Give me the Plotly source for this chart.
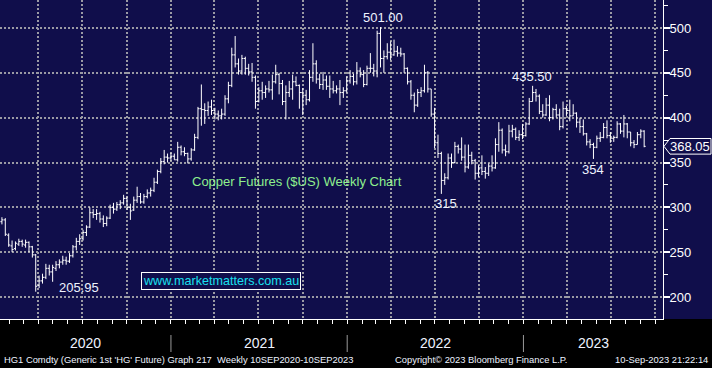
import numpy as np
import pandas as pd
import plotly.graph_objects as go

# ---------------- data (weekly OHLC, HG1 copper, US cents/lb) ----------------
week_start = "2020-01-10"
open_ = [282,284,286,269,257,254,259,262,258,261,256,247,213,218,222,232,228,232,236,239,
         241,240,246,256,262,265,272,278,294,292,293,287,282,288,300,298,303,305,310,300,
         297,308,312,306,312,316,319,328,340,351,356,355,357,353,367,362,360,354,364,378,
         410,409,408,412,408,404,402,404,421,436,470,460,452,466,455,451,445,418,430,428,
         432,431,440,448,438,418,428,432,440,436,428,425,420,445,460,443,437,442,435,432,
         430,432,428,430,441,446,440,452,448,437,455,455,452,494,466,468,473,470,474,472,
         471,455,440,425,414,428,430,450,432,404,372,360,330,333,355,350,368,365,356,345,
         358,352,338,344,340,338,346,344,370,386,364,362,385,387,378,381,380,393,418,428,
         424,407,403,414,400,409,403,390,410,408,402,405,395,390,382,373,370,367,377,378,
         389,380,377,378,393,385,393,384,372,370,381,385]
high = [287,289,288,271,263,262,265,264,264,262,257,248,224,226,237,236,236,240,242,246,
        245,249,258,266,270,275,280,300,298,298,295,291,290,303,305,306,308,314,312,304,
        312,323,316,315,320,322,333,342,355,364,360,361,360,373,369,367,361,366,382,412,
        437,416,418,420,411,408,410,425,440,478,491,466,470,468,460,461,447,434,440,436,
        441,448,459,450,442,436,441,448,446,437,433,431,453,483,464,449,451,447,447,441,
        436,442,434,446,453,449,462,456,453,458,472,460,497,501,475,483,485,487,480,478,
        472,456,442,428,432,434,459,452,432,411,381,362,338,360,360,373,370,378,370,370,
        362,354,347,358,345,349,358,377,395,388,370,392,392,389,386,393,395,422,435.5,432,
        426,415,422,425,411,415,410,418,413,420,415,406,400,398,383,376,372,380,384,394,
        397,384,380,396,394,403,394,384,375,384,387,386]
low = [278,281,268,256,250,252,257,256,255,250,244,205.95,210,215,220,224,217,229,232,236,
       236,238,244,252,258,263,268,277,288,286,283,278,279,287,293,296,298,303,297,286,
       296,305,304,304,310,312,317,326,338,348,350,352,353,351,358,357,349,352,363,376,
       391,393,402,403,398,397,398,402,416,434,456,448,448,448,447,440,410,417,420,422,
       428,420,438,426,414,398,423,420,435,410,403,414,418,440,438,432,431,431,422,427,
       427,414,422,428,438,436,437,445,434,436,450,446,445,456,450,465,464,469,468,468,
       450,437,420,406,412,423,428,428,401,366,355,315,325,331,344,349,360,352,339,343,
       348,331,334,336,332,335,340,343,362,360,357,360,378,375,374,376,379,392,418,418,
       404,400,402,396,398,400,386,388,402,396,402,389,383,380,369,366,354,366,373,377,
       377,372,373,377,382,378,377,368,366,370,377,367]
close = [284,286,270,258,253,260,262,259,261,256,247,212,218,222,232,228,233,236,239,241,
         240,246,256,262,265,272,278,294,292,293,287,282,288,300,298,303,305,310,300,296,
         308,312,306,312,316,319,328,340,351,356,355,357,353,367,362,360,354,364,378,410,
         409,408,412,408,404,402,404,421,436,470,460,452,466,455,451,445,418,430,428,432,
         431,440,448,438,418,428,432,440,436,428,425,420,445,460,443,437,442,435,432,430,
         432,428,430,441,446,440,452,448,437,455,455,452,494,466,468,473,470,474,472,471,
         455,440,425,414,428,430,450,432,404,372,360,330,333,355,350,368,365,356,345,358,
         352,338,344,340,338,346,344,370,386,364,362,385,387,378,381,380,393,418,428,424,
         407,403,414,400,409,403,390,410,408,402,405,395,390,382,373,370,367,377,378,389,
         380,377,378,393,385,393,384,372,370,381,385,368.05]

y_ticks = [200, 250, 300, 350, 400, 450, 500]
year_labels = ["2020", "2021", "2022", "2023"]
extreme_labels = ["501.00", "435.50", "315", "354", "205.95"]
title_text = "Copper Futures ($US) Weekly Chart"
site_text = "www.marketmatters.com.au"
footer_left = "HG1 Comdty (Generic 1st 'HG' Future) Graph 217\u00a0 Weekly 10SEP2020-10SEP2023"
footer_mid = "Copyright\u00a9 2023 Bloomberg Finance L.P."
footer_right = "10-Sep-2023 21:22:14"

dates = pd.date_range(week_start, periods=len(close), freq="7D")

# ---------------- styling ----------------
NAVY = "#100e4b"
GRID = "#9a9aa4"
TXT = "#eef3ff"
FONT = "Liberation Sans, Arial, sans-serif"
W, H = 712, 368
ML, MR, MT, MB = 0, 49, 0, 49
PW = W - ML - MR
PH = H - MT - MB
x_start, x_end = "2020-01-13", "2023-10-17"
y_lo, y_hi = 175.5, 531.2

fig = go.Figure()
fig.add_trace(go.Ohlc(
    x=dates, open=open_, high=high, low=low, close=close,
    increasing=dict(line=dict(color="white", width=1)),
    decreasing=dict(line=dict(color="white", width=1)),
    tickwidth=0.45, hoverinfo="skip", showlegend=False,
))

# navy panel (plot + right axis area)
fig.add_shape(type="rect", xref="paper", yref="paper", x0=0, x1=W / PW, y0=0, y1=1,
              fillcolor=NAVY, line=dict(width=0), layer="below")

# last price tag
last = close[-1]
hh = 8.7
px = lambda p: p / PW
path = (f"M {px(PW+1)},{last} L {px(PW+7)},{last+hh} L {px(W-1)},{last+hh} "
        f"L {px(W-1)},{last-hh} L {px(PW+7)},{last-hh} Z")
fig.add_shape(type="path", xref="paper", yref="y", path=path,
              fillcolor=NAVY, line=dict(color="white", width=1), layer="above")
fig.add_annotation(x=px(690), xref="paper", y=last, yref="y", text=f"{last:.2f}",
                   showarrow=False, xanchor="center", yanchor="middle",
                   font=dict(family=FONT, size=13, color="white"))

# extreme labels anchored on bars
h_arr, l_arr = np.array(high), np.array(low)
i_max = int(np.argmax(h_arr))
i_min = int(np.argmin(l_arr))
m22 = (dates >= "2022-01-01") & (dates < "2023-01-01")
m23 = dates >= "2023-01-01"
i_315 = int(np.where(m22)[0][np.argmin(l_arr[m22])])
i_354 = int(np.where(m23)[0][np.argmin(l_arr[m23])])
i_435 = int(np.where(m23)[0][np.argmax(h_arr[m23])])
specs = [
    (i_max, high[i_max], extreme_labels[0], 2, 10),
    (i_435, high[i_435], extreme_labels[1], -1, 9),
    (i_315, low[i_315], extreme_labels[2], 5, -10),
    (i_354, low[i_354], extreme_labels[3], 0, -11),
    (i_min, low[i_min], extreme_labels[4], 43, 4),
]
for i, yv, t, xs, ys in specs:
    fig.add_annotation(x=dates[i], y=yv, text=t, showarrow=False,
                       xanchor="center", yanchor="middle", xshift=xs, yshift=ys,
                       font=dict(family=FONT, size=13, color=TXT))

fig.add_annotation(x=297 / PW, y=1 - 181 / PH, xref="paper", yref="paper", text=title_text,
                   showarrow=False, xanchor="center", yanchor="middle",
                   font=dict(family=FONT, size=13, color="#8ef08e"))
fig.add_annotation(x=141 / PW, y=1 - 281 / PH, xref="paper", yref="paper", text=site_text,
                   showarrow=False, xanchor="left", yanchor="middle",
                   bordercolor="white", borderwidth=1, borderpad=1, bgcolor=NAVY,
                   font=dict(family=FONT, size=12.6, color="#19e0f0"))

# year labels and dividers under the axis
yr_bounds = [pd.Timestamp(x_start), pd.Timestamp("2021-01-01"), pd.Timestamp("2022-01-01"),
             pd.Timestamp("2023-01-01"), pd.Timestamp(x_end)]
for k, lab in enumerate(year_labels):
    a, b = yr_bounds[k], yr_bounds[k + 1]
    mid = a + (b - a) / 2
    fig.add_annotation(x=mid, y=1 - 343 / PH, yref="paper",
                       text=lab, showarrow=False, xanchor="center", yanchor="middle",
                       font=dict(family=FONT, size=14, color=TXT))
for b in yr_bounds[1:4]:
    fig.add_shape(type="line", x0=b, x1=b, yref="paper", y0=1 - 335 / PH, y1=1 - 352 / PH,
                  line=dict(color="#9a9a9a", width=1))

# footer
fy = 1 - 359 / PH
FS = 9.4
fig.add_annotation(x=2 / PW, y=fy, xref="paper", yref="paper", text=footer_left,
                   showarrow=False, xanchor="left", yanchor="middle",
                   font=dict(family=FONT, size=FS, color=TXT))
fig.add_annotation(x=393 / PW, y=fy, xref="paper", yref="paper", text=footer_mid,
                   showarrow=False, xanchor="left", yanchor="middle",
                   font=dict(family=FONT, size=FS, color=TXT))
fig.add_annotation(x=710 / PW, y=fy, xref="paper", yref="paper", text=footer_right,
                   showarrow=False, xanchor="right", yanchor="middle",
                   font=dict(family=FONT, size=FS, color=TXT))

fig.update_layout(
    width=W, height=H, margin=dict(l=ML, r=MR, t=MT, b=MB, pad=0),
    paper_bgcolor="black", plot_bgcolor=NAVY, showlegend=False,
    xaxis=dict(type="date", range=[x_start, x_end], rangeslider=dict(visible=False),
               showgrid=True, gridcolor=GRID, gridwidth=2, griddash="2px,2px",
               tick0="2020-01-01", dtick="M3", ticks="outside", ticklen=4,
               tickcolor="white", tickwidth=1, showticklabels=False,
               showline=True, linecolor="white", linewidth=1, zeroline=False,
               minor=dict(dtick="M1", ticks="outside", ticklen=4, tickcolor="white",
                          tickwidth=1, showgrid=False)),
    yaxis=dict(side="right", range=[y_lo, y_hi], tickmode="array", tickvals=y_ticks,
               showgrid=True, gridcolor=GRID, gridwidth=2, griddash="2px,2px",
               ticks="outside", ticklen=6, tickwidth=2, tickcolor="white",
               ticklabelstandoff=-3,
               showline=True, linecolor="white", linewidth=1, zeroline=False,
               tickfont=dict(family=FONT, size=13, color="white"),
               minor=dict(dtick=25, tick0=0, ticks="outside", ticklen=4,
                          tickcolor="white", tickwidth=1, showgrid=False)),
)

fig.write_html("out.html", config={"displayModeBar": False, "staticPlot": True},
               post_script="document.body.style.margin='0';document.body.style.overflow='hidden';")
